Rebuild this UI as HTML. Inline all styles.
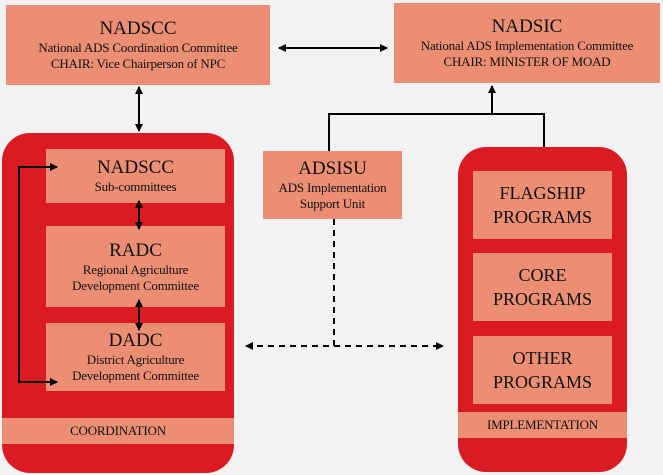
<!DOCTYPE html>
<html><head><meta charset="utf-8"><style>
body{margin:0;width:663px;height:475px;background:#f2f2f2;position:relative;overflow:hidden;font-family:"Liberation Serif",serif;color:#111}
.b{position:absolute;background:#eb8e74;text-align:center;box-sizing:border-box;display:flex;flex-direction:column;justify-content:center;align-items:center}
.t{font-size:19px;line-height:22px}
.s{font-size:13px;line-height:16px;letter-spacing:-0.2px}
.p{font-size:18px;line-height:24px}
.r{position:absolute;background:#da1b23;border-radius:28px}
svg{position:absolute;left:0;top:0}
</style></head><body>
<div class="b" style="left:6px;top:5px;width:264px;height:80px"><div class="t">NADSCC</div><div class="s">National ADS Coordination Committee<br>CHAIR: Vice Chairperson of NPC</div></div>
<div class="b" style="left:394px;top:3px;width:266px;height:80px"><div class="t">NADSIC</div><div class="s">National ADS Implementation Committee<br>CHAIR: MINISTER OF MOAD</div></div>
<div class="r" style="left:2px;top:133px;width:232px;height:340px"></div>
<div class="b" style="left:46px;top:149px;width:179px;height:54px"><div class="t">NADSCC</div><div class="s">Sub-committees</div></div>
<div class="b" style="left:46px;top:226px;width:179px;height:81px"><div class="t">RADC</div><div class="s">Regional Agriculture<br>Development Committee</div></div>
<div class="b" style="left:46px;top:323px;width:179px;height:68px"><div class="t">DADC</div><div class="s">District Agriculture<br>Development Committee</div></div>
<div class="b" style="left:2px;top:418px;width:232px;height:26px"><div class="s">COORDINATION</div></div>
<div class="b" style="left:263px;top:151px;width:139px;height:68px"><div class="t">ADSISU</div><div class="s">ADS Implementation<br>Support Unit</div></div>
<div class="r" style="left:458px;top:147px;width:169px;height:325px"></div>
<div class="b" style="left:473px;top:171px;width:139px;height:68px"><div class="p">FLAGSHIP<br>PROGRAMS</div></div>
<div class="b" style="left:473px;top:253px;width:139px;height:68px"><div class="p">CORE<br>PROGRAMS</div></div>
<div class="b" style="left:473px;top:336px;width:139px;height:68px"><div class="p">OTHER<br>PROGRAMS</div></div>
<div class="b" style="left:458px;top:412px;width:169px;height:26px"><div class="s">IMPLEMENTATION</div></div>
<svg width="663" height="475">
<defs><marker id="a" markerWidth="8" markerHeight="8" refX="7" refY="4" orient="auto-start-reverse" markerUnits="userSpaceOnUse" viewBox="0 0 8 8"><path d="M0,0L8,4L0,8z" fill="#000"/></marker></defs>
<g stroke="#000" stroke-width="2" fill="none">
<line x1="279" y1="48" x2="387" y2="48" marker-start="url(#a)" marker-end="url(#a)"/>
<line x1="139" y1="87" x2="139" y2="131" marker-start="url(#a)" marker-end="url(#a)"/>
<line x1="139" y1="201" x2="139" y2="229" marker-start="url(#a)" marker-end="url(#a)"/>
<line x1="139" y1="300" x2="139" y2="330" marker-start="url(#a)" marker-end="url(#a)"/>
<polyline points="329,151 329,114 544,114 544,147"/>
<line x1="492" y1="114" x2="492" y2="86" marker-end="url(#a)"/>
<polyline points="57,167 19,167 19,382 57,382" marker-start="url(#a)" marker-end="url(#a)"/>
<line x1="334" y1="219" x2="334" y2="346" stroke-dasharray="6,5"/>
<line x1="246" y1="346" x2="443" y2="346" stroke-dasharray="6,5" marker-start="url(#a)" marker-end="url(#a)"/>
</g></svg>
</body></html>
